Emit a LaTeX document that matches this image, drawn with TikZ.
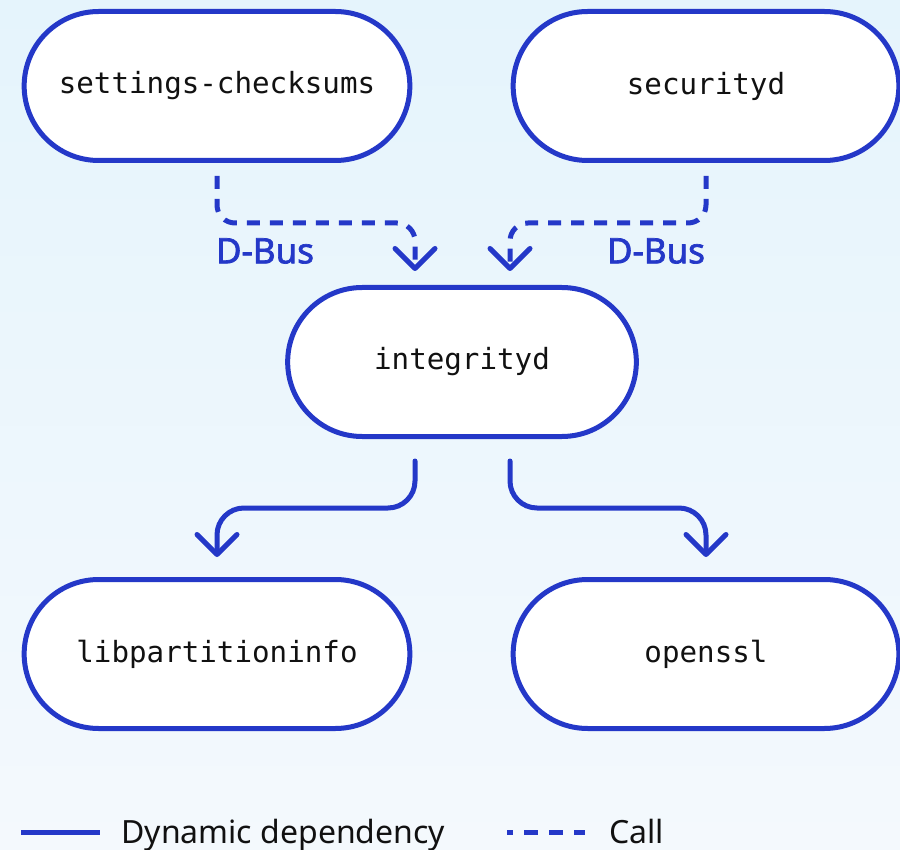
\documentclass[tikz,border=0pt]{standalone}
\usepackage{fontspec}
\setmainfont{Noto Sans}
\setmonofont{DejaVu Sans Mono}
\newfontfamily\busfont{Noto Sans}[FakeBold=2]
\usetikzlibrary{shapes.misc,arrows.meta,calc}

\definecolor{linkblue}{RGB}{36,56,200}
\definecolor{bgtop}{RGB}{229,244,252}
\definecolor{bgbottom}{RGB}{244,249,253}
\definecolor{inktext}{RGB}{17,17,17}

\tikzset{
  pill/.style={rounded rectangle, draw=linkblue, fill=white, line width=2.5pt,
    minimum height=74.5pt, text=inktext, font=\ttfamily\fontsize{14.6}{17}\selectfont},
  wide/.style={pill, minimum width=199.5pt},
  narrow/.style={pill, minimum width=181pt},
  tip/.style={-{Straight Barb[length=10pt,width=20pt,round]}},
  dyn/.style={draw=linkblue, line width=2.5pt, line cap=round, line join=round},
  call/.style={draw=linkblue, line width=2.5pt, dash pattern=on 6.5pt off 5pt},
  buslabel/.style={text=linkblue, font=\busfont\fontsize{17.5}{20}\selectfont},
  legendtext/.style={text=inktext, font=\fontsize{16}{19}\selectfont},
}

\begin{document}
\begin{tikzpicture}[x=0.5pt,y=-0.5pt]
  % backdrop
  \shade[top color=bgtop, bottom color=bgbottom] (0,0) rectangle (900,850);
  \useasboundingbox (0,0) rectangle (900,850);

  % components
  \node[wide]   (sc)    at (217,86)  {settings-checksums};
  \node[wide]   (sec)   at (706,86)  {securityd};
  \node[narrow] (integ) at (462,362) {integrityd};
  \node[wide]   (lib)   at (217,654) {libpartitioninfo};
  \node[wide]   (ssl)   at (706,654) {openssl};

  % D-Bus calls into integrityd
  \coordinate (a1) at ($(sc.south)+(0,13)$);
  \coordinate (a2) at ($(integ.north)+(-47,-14)$);
  \coordinate (b1) at ($(sec.south)+(0,13)$);
  \coordinate (b2) at ($(integ.north)+(48,-14)$);
  \draw[call, tip, rounded corners=9pt] (a1) -- ++(0,47) -| (a2);
  \draw[call, tip, rounded corners=9pt] (b1) -- ++(0,47) -| (b2);
  \node[buslabel] (bus1) at (265,251) {D-Bus};
  \node[buslabel] (bus2) at (656,251) {D-Bus};

  % dynamic dependencies of integrityd
  \coordinate (c1) at ($(integ.south)+(-47,22)$);
  \coordinate (c2) at ($(lib.north)+(0,-20)$);
  \coordinate (c3) at ($(integ.south)+(48,22)$);
  \coordinate (c4) at ($(ssl.north)+(0,-20)$);
  \draw[dyn, tip, rounded corners=13.5pt] (c1) -- ++(0,47) -| (c2);
  \draw[dyn, tip, rounded corners=13.5pt] (c3) -- ++(0,47) -| (c4);

  % legend
  \coordinate (l1) at (21,832);
  \coordinate (l2) at (100,832);
  \coordinate (l3) at (507,832);
  \coordinate (l4) at (585,832);
  \draw[dyn, line cap=butt] (l1) -- (l2);
  \node[legendtext, anchor=base west, inner sep=0pt] (ldyn) at (121,843) {Dynamic dependency};
  \draw[call, dash pattern=on 7pt off 5.5pt, dash phase=4pt] (l3) -- (l4);
  \node[legendtext, anchor=base west, inner sep=0pt] (lcall) at (609,843) {Call};
\end{tikzpicture}
\end{document}
